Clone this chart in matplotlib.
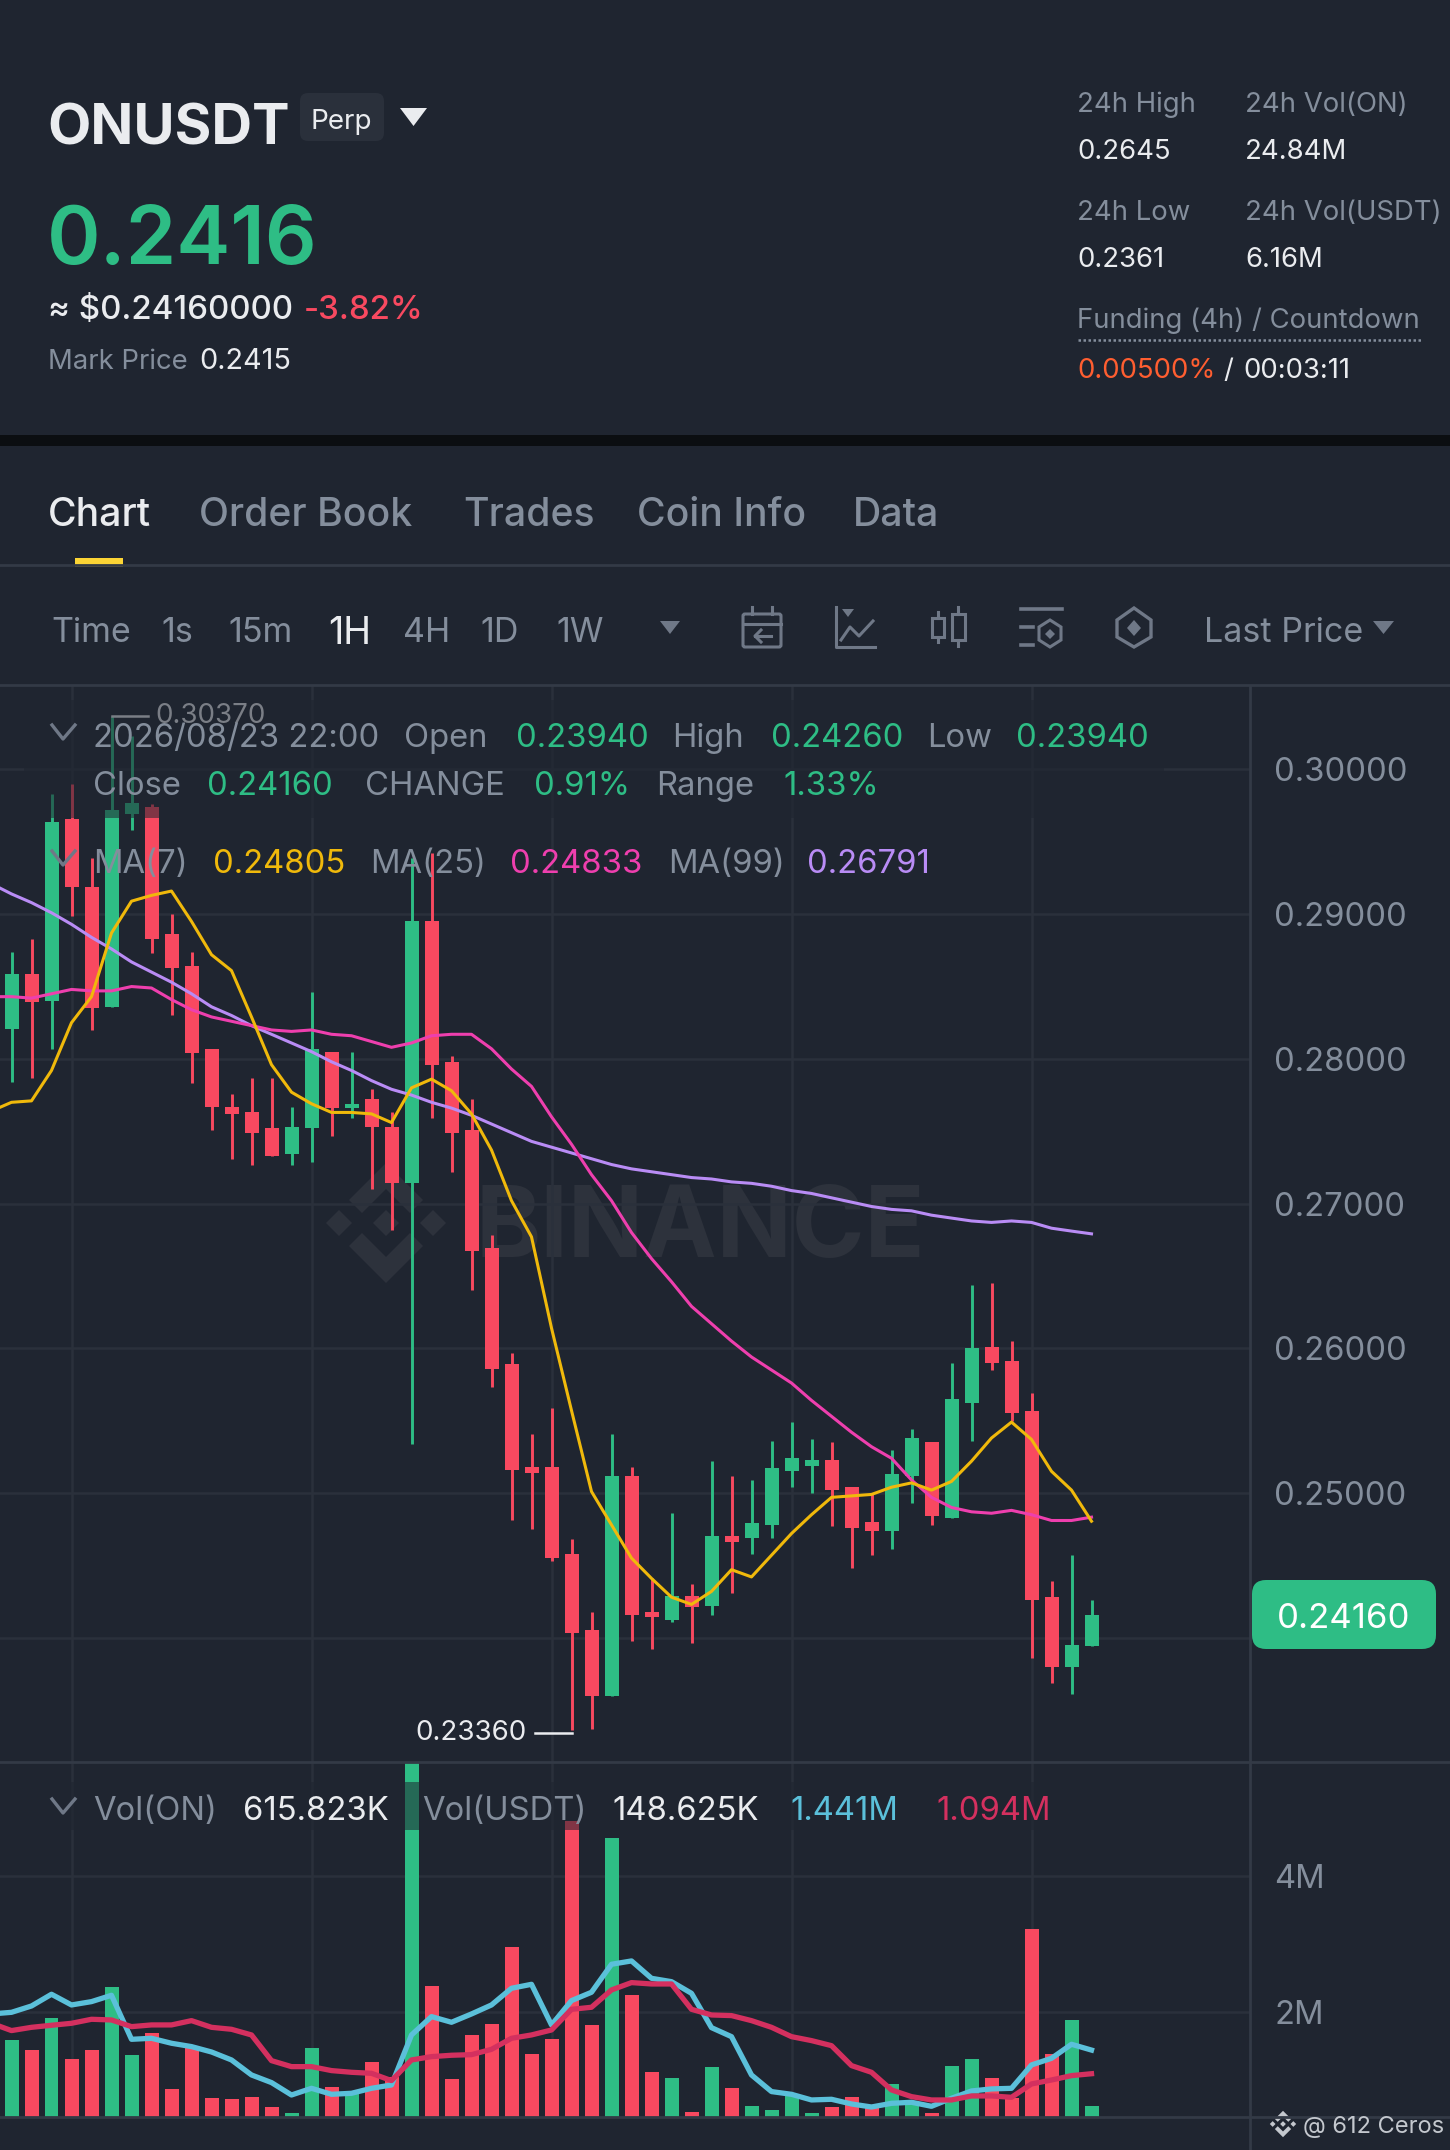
import matplotlib
matplotlib.use("Agg")
import matplotlib.pyplot as plt
from matplotlib.patches import Rectangle, FancyBboxPatch, Polygon

plt.rcParams['font.family'] = ['Inter', 'DejaVu Sans']

# candles, oldest first
opens = [.2821,.2859,.2840,.2966,.2919,.2836,.2969,.2974,.2886,.2864,.2807,.2767,.2763,.2752,.2734,.2752,.2805,.2766,.2772,.2753,
         .2714,.2895,.2798,.2751,.2669,.2589,.2518,.2518,.2458,.2405,.2360,.2512,.2418,.2412,.2429,.2422,.2470,.2469,.2478,.2515,
         .2519,.2523,.2504,.2480,.2474,.2512,.2535,.2483,.2562,.2601,.2591,.2557,.2428,.2380,.2394]
highs = [.2874,.2883,.2983,.2990,.2939,.3037,.3023,.2976,.2900,.2874,.2807,.2776,.2787,.2787,.2767,.2846,.2805,.2805,.2779,.2763,
         .2939,.2942,.2802,.2772,.2678,.2597,.2541,.2559,.2468,.2418,.2541,.2518,.2441,.2486,.2437,.2522,.2512,.2509,.2536,.2549,
         .2537,.2535,.2504,.2499,.2530,.2544,.2535,.2590,.2644,.2645,.2605,.2569,.2439,.2457,.2426]
lows = [.2784,.2787,.2807,.2899,.2820,.2836,.2958,.2873,.2830,.2783,.2751,.2731,.2727,.2733,.2727,.2729,.2747,.2759,.2710,.2682,
        .2534,.2759,.2722,.2640,.2573,.2481,.2475,.2453,.2336,.2337,.2360,.2398,.2392,.2411,.2396,.2416,.2431,.2458,.2469,.2504,
        .2500,.2477,.2448,.2457,.2461,.2493,.2478,.2483,.2536,.2585,.2550,.2386,.2369,.2361,.2394]
closes = [.2859,.2839,.2964,.2919,.2835,.2972,.2977,.2883,.2863,.2804,.2767,.2762,.2749,.2733,.2753,.2807,.2766,.2769,.2753,.2714,
          .2895,.2796,.2749,.2667,.2586,.2516,.2514,.2455,.2403,.2360,.2512,.2416,.2414,.2429,.2421,.2470,.2466,.2479,.2517,.2524,
          .2523,.2502,.2476,.2474,.2513,.2538,.2484,.2565,.2600,.2590,.2555,.2426,.2380,.2395,.2416]
volumes = [1.585,1.438,1.917,1.306,1.442,2.362,1.369,1.687,.870,1.467,.734,.723,.753,.601,.514,1.472,.904,.831,1.262,1.051,
           5.66,2.382,1.017,1.658,1.824,2.949,1.384,1.604,4.807,1.805,4.549,2.245,1.120,1.032,.537,1.193,.880,.621,.558,.782,
           .514,.610,.753,.635,.948,.660,.514,1.208,1.306,1.027,.734,3.218,1.384,1.878,.616]

# moving averages start one candle before the first visible one
ma7 = [.2764,.2770,.2771,.2792,.2825,.2843,.2887,.2909,.2913,.2916,.2895,.2872,.2861,.2829,.2796,.2777,.2769,.2763,.2763,.2762,.2756,
       .2780,.2786,.2778,.2762,.2737,.2702,.2677,.2614,.2557,.2501,.2478,.2455,.2441,.2428,.2423,.2432,.2447,.2442,.2457,.2472,
       .2485,.2497,.2498,.2499,.2504,.2507,.2502,.2508,.2522,.2538,.2549,.2537,.2515,.2502,.24805]
ma25 = [.2843,.2843,.2842,.2845,.2848,.2847,.2847,.2850,.2849,.2841,.2834,.2829,.2826,.2823,.2820,.2819,.2820,.2817,.2816,.2812,.2808,
        .2811,.2816,.2817,.2817,.2807,.2793,.2781,.2760,.2741,.2720,.2702,.2680,.2662,.2646,.2629,.2617,.2605,.2594,.2585,.2576,
        .2564,.2553,.2542,.2532,.2524,.2509,.2497,.2490,.2487,.2486,.2488,.2485,.2481,.2481,.24833]
ma99 = [.2921,.2914,.2908,.2901,.2893,.2884,.2876,.2867,.2860,.2853,.2845,.2836,.2830,.2823,.2817,.2811,.2805,.2798,.2792,.2785,.2779,
        .2775,.2770,.2766,.2761,.2755,.2749,.2743,.2739,.2735,.2731,.2727,.2724,.2722,.2720,.2718,.2717,.2715,.2714,.2712,.2709,
        .2707,.2704,.2701,.2698,.2696,.2695,.2692,.2690,.2688,.2687,.2688,.2687,.2683,.2681,.26791]
vol_ma_a = [1.971,1.995,2.088,2.260,2.103,2.152,2.245,1.599,1.614,1.541,1.492,1.413,1.296,1.076,.964,.782,.880,.792,.807,.880,.929,
            1.663,1.932,1.849,1.971,2.103,2.348,2.406,1.810,2.167,2.289,2.700,2.749,2.494,2.445,2.274,1.770,1.638,1.076,.832,.792,
            .709,.719,.650,.606,.660,.675,.616,.734,.841,.871,.880,1.223,1.320,1.526,1.441]
vol_ma_b = [1.834,1.727,1.775,1.805,1.834,1.893,1.883,1.785,1.810,1.810,1.873,1.775,1.746,1.663,1.286,1.198,1.198,1.140,1.115,1.100,.993,
            1.296,1.345,1.365,1.374,1.452,1.614,1.663,1.736,2.039,2.069,2.323,2.431,2.411,2.411,2.039,1.956,1.947,1.873,1.775,1.638,
            1.580,1.506,1.213,1.115,.856,.758,.709,.709,.768,.768,.748,.944,1.002,1.066,1.094]

price_ticks = [.30, .29, .28, .27, .26, .25, .24]
price_labels = ['0.30000', '0.29000', '0.28000', '0.27000', '0.26000', '0.25000', '']
vol_ticks = [2, 4]
vol_labels = ['2M', '4M']

BG = '#1f2530'
GREEN = '#2ebd85'
RED = '#f84960'
GRAY = '#848e9c'
WHITE = '#eaecef'
GRID = '#2a303b'
LINE = '#333a46'
ICON = '#6f7887'
W, H = 1450, 2150
ROW = 23.6  # legend and axis text size
SIDE = 19.8  # 24h block text size

fig = plt.figure(figsize=(W / 100, H / 100), dpi=100, facecolor=BG)


def pane(x0, x1, y0, y1, z):
    a = fig.add_axes([x0 / W, 1 - y1 / H, (x1 - x0) / W, (y1 - y0) / H], zorder=z)
    a.patch.set_alpha(0)
    return a


# pixel canvas behind the charts, for the watermark and the frame
back = pane(0, W, 0, H, 0)
back.set_xlim(0, W)
back.set_ylim(H, 0)
back.axis('off')


def logo(a, cx, cy, s, color):
    for dx in (-47, 0, 47):
        d = 13
        a.add_patch(Polygon([(cx + s * (dx - d), cy), (cx + s * dx, cy - s * d), (cx + s * (dx + d), cy), (cx + s * dx, cy + s * d)],
                            fc=color, ec='none'))
    for sign in (-1, 1):
        a.add_patch(Polygon([(cx, cy + sign * s * 60), (cx + s * 37, cy + sign * s * 23), (cx + s * 24, cy + sign * s * 10),
                             (cx, cy + sign * s * 34), (cx - s * 24, cy + sign * s * 10), (cx - s * 37, cy + sign * s * 23)],
                            fc=color, ec='none'))


logo(back, 386, 1223, 1, '#2d323c')
back.text(476, 1257, 'BINANCE', color='#2d323c', fontsize=71, fontweight='bold', va='baseline')

# price pane
ax = pane(0, 1250, 686, 1762, 1)
ax.set_xlim(-0.575, 61.925)
ax.set_ylim(0.23141, 0.30577)
xs = list(range(len(opens)))
ma_xs = list(range(-1, len(opens)))
for i in xs:
    up = closes[i] >= opens[i]
    c = GREEN if up else RED
    ax.vlines(i, lows[i], highs[i], color=c, lw=2.1, zorder=3)
    ax.bar(i, abs(closes[i] - opens[i]), bottom=min(opens[i], closes[i]), width=0.7, color=c, zorder=3)
ax.plot(ma_xs, ma99, color='#b98cf5', lw=2.2, zorder=4)
ax.plot(ma_xs, ma25, color='#ee3fae', lw=2.2, zorder=5)
ax.plot(ma_xs, ma7, color='#f0b90b', lw=2.2, zorder=6)
ax.plot([5, 6.8], [.3037, .3037], color=WHITE, lw=1.8, zorder=6)
ax.text(7.2, .3037, '0.30370', color=WHITE, fontsize=20, va='center', zorder=6)
ax.plot([26.15, 28], [.2334, .2334], color=WHITE, lw=1.8, zorder=6)
ax.text(25.75, .2334, '0.23360', color=WHITE, fontsize=20, va='center', ha='right', zorder=6)
ax.set_xticks([3, 15, 27, 39, 51])
ax.set_xticklabels([])
ax.set_yticks(price_ticks)
ax.set_yticklabels(price_labels)
ax.yaxis.tick_right()
ax.tick_params(length=0, labelcolor=GRAY, labelsize=ROW, pad=17.3, labelbottom=False)
ax.grid(color=GRID, lw=1.8, zorder=0)
ax.set_axisbelow(True)
for s in ax.spines.values():
    s.set_visible(False)

# volume pane
vx = pane(0, 1250, 1762, 2117, 1)
vx.set_xlim(-0.575, 61.925)
vx.set_ylim(0.459, 5.668)
vx.bar(xs, volumes, width=0.7, color=[GREEN if closes[i] >= opens[i] else RED for i in xs], zorder=3)
vx.plot(ma_xs, vol_ma_a, color='#5bc0da', lw=3.8, zorder=4)
vx.plot(ma_xs, vol_ma_b, color='#d4305f', lw=3.8, zorder=5)
vx.set_xticks([3, 15, 27, 39, 51])
vx.set_xticklabels([])
vx.set_yticks(vol_ticks)
vx.set_yticklabels(vol_labels)
vx.yaxis.tick_right()
vx.tick_params(length=0, labelcolor=GRAY, labelsize=ROW, pad=17.3, labelbottom=False)
vx.grid(color=GRID, lw=1.8, zorder=0)
vx.set_axisbelow(True)
for s in vx.spines.values():
    s.set_visible(False)

# pixel canvas in front: header, tabs, toolbar, legends
top = pane(0, W, 0, H, 10)
top.set_xlim(0, W)
top.set_ylim(H, 0)
top.axis('off')


def label(x, y, s, color=GRAY, size=20, weight='normal', ha='left'):
    # y is the middle of the capitals
    top.text(x, y + size * 100 / 72 * 0.36, s, color=color, fontsize=size, fontweight=weight, ha=ha, va='baseline')


def tri(x0, x1, y0, y1, color):
    top.add_patch(Polygon([(x0, y0), (x1, y0), ((x0 + x1) / 2, y1)], fc=color, ec='none'))


def chevron(y):
    top.plot([52, 63, 75], [y - 7, y + 7, y - 7], color=ICON, lw=2.4)


# frame
top.add_patch(Rectangle((0, 435), W, 11, fc='#0b0e11', ec='none'))
top.plot([0, W], [565, 565], color=LINE, lw=2)
top.plot([0, W], [685, 685], color=LINE, lw=2)
top.plot([0, W], [1762, 1762], color=LINE, lw=2)
top.plot([0, W], [2117, 2117], color=LINE, lw=2)
top.plot([1250, 1250], [686, H], color=LINE, lw=2)
top.add_patch(Rectangle((75, 558), 48, 9, fc='#fcd535', ec='none'))

# dimming behind the legend rows
top.add_patch(Rectangle((24, 700), 1140, 118, fc=BG, ec='none', alpha=0.55))
top.add_patch(Rectangle((24, 1782), 1050, 48, fc=BG, ec='none', alpha=0.55))

# header
label(47, 124, 'ONUSDT', WHITE, 40.5, 'bold')
top.add_patch(FancyBboxPatch((304, 97), 76, 40, boxstyle='round,pad=4,rounding_size=8', fc='#2a303b', ec='none'))
label(311, 119, 'Perp', WHITE, 20)
tri(400, 427, 108, 126, WHITE)
label(47, 235, '0.2416', GREEN, 58.5, 'semibold')
label(48, 307, '≈ $0.24160000', WHITE, 23.8, 'medium')
label(304, 307, '-3.82%', RED, 23.8, 'medium')
label(48, 359, 'Mark Price', GRAY, 19.8)
label(199, 359, '0.2415', WHITE, 20.8)
label(1077, 102, '24h High', GRAY, SIDE)
label(1245, 102, '24h Vol(ON)', GRAY, SIDE)
label(1077, 149, '0.2645', WHITE, SIDE)
label(1245, 149, '24.84M', WHITE, SIDE)
label(1077, 210, '24h Low', GRAY, SIDE)
label(1245, 210, '24h Vol(USDT)', GRAY, SIDE)
label(1077, 257, '0.2361', WHITE, SIDE)
label(1245, 257, '6.16M', WHITE, SIDE)
label(1077, 318, 'Funding (4h) / Countdown', GRAY, SIDE)
top.plot([1078, 1423], [340, 340], color=GRAY, lw=1.8, ls=(0, (1, 1)))
label(1077, 368, '0.00500%', '#ff5e30', SIDE)
label(1223, 368, '/', WHITE, SIDE)
label(1243, 368, '00:03:11', WHITE, SIDE)

# tabs
label(48, 512, 'Chart', WHITE, 28.2, 'medium')
for x, s in [(199, 'Order Book'), (463, 'Trades'), (637, 'Coin Info'), (853, 'Data')]:
    label(x, 512, s, GRAY, 28.2, 'medium')

# toolbar
for x, s, c in [(51, 'Time', GRAY), (161, '1s', GRAY), (228, '15m', GRAY), (328, '1H', WHITE), (403, '4H', GRAY),
                (480, '1D', GRAY), (556, '1W', GRAY), (1204, 'Last Price', GRAY)]:
    label(x, 630, s, c, 24.5 if s != '1H' else 27)
tri(660, 680, 621, 634, ICON)
tri(1373, 1394, 621, 634, ICON)

# calendar
top.add_patch(FancyBboxPatch((743, 614), 38, 33, boxstyle='round,pad=0,rounding_size=2', fc='none', ec=ICON, lw=2.2))
top.plot([743, 781], [624, 624], color=ICON, lw=2.2)
top.plot([752, 752], [607, 614], color=ICON, lw=2.2)
top.plot([772, 772], [607, 614], color=ICON, lw=2.2)
top.plot([771, 755], [636, 636], color=ICON, lw=2.2)
top.plot([761, 755, 761], [630, 636, 642], color=ICON, lw=2.2)
# indicators
top.plot([836, 836, 875], [607, 647, 647], color=ICON, lw=2.2)
tri(842, 854, 609, 617, ICON)
top.plot([841, 850, 859, 873], [640, 627, 636, 621], color=ICON, lw=2.2)
# candle type
for x0, x1, y0, y1, w0, w1 in [(932, 944, 618, 637, 612, 642), (952, 965, 614, 640, 607, 646)]:
    top.add_patch(Rectangle((x0, y0), x1 - x0, y1 - y0, fc='none', ec=ICON, lw=2.2))
    top.plot([(x0 + x1) / 2] * 2, [w0, y0], color=ICON, lw=2.2)
    top.plot([(x0 + x1) / 2] * 2, [y1, w1], color=ICON, lw=2.2)
# settings
top.plot([1021, 1062], [609, 609], color=ICON, lw=2.6)
top.plot([1021, 1033], [627, 627], color=ICON, lw=2.6)
top.plot([1021, 1033], [645, 645], color=ICON, lw=2.6)
top.add_patch(Polygon([(1050, 620), (1061, 627), (1061, 640), (1050, 647), (1039, 640), (1039, 627)], fc='none', ec=ICON, lw=2.2))
top.add_patch(Polygon([(1050, 629), (1055, 634), (1050, 639), (1045, 634)], fc=ICON, ec='none'))
# hexagon
top.add_patch(Polygon([(1134, 608), (1151, 620), (1151, 637), (1134, 647), (1117, 637), (1117, 620)], fc='none', ec=ICON, lw=2.4))
top.add_patch(Polygon([(1134, 620), (1141, 628), (1134, 636), (1127, 628)], fc=ICON, ec='none'))

# chart legend
chevron(732)
label(93, 735, '2026/08/23 22:00', GRAY, ROW)
for x, s, c in [(404, 'Open', GRAY), (516, '0.23940', GREEN), (672, 'High', GRAY), (771, '0.24260', GREEN),
                (927, 'Low', GRAY), (1016, '0.23940', GREEN)]:
    label(x, 735, s, c, ROW)
for x, s, c in [(93, 'Close', GRAY), (207, '0.24160', GREEN), (365, 'CHANGE', GRAY), (534, '0.91%', GREEN),
                (656, 'Range', GRAY), (783, '1.33%', GREEN)]:
    label(x, 783, s, c, ROW)
chevron(858)
for x, s, c in [(93, 'MA(7)', GRAY), (213, '0.24805', '#f0b90b'), (370, 'MA(25)', GRAY), (510, '0.24833', '#ee3fae'),
                (668, 'MA(99)', GRAY), (807, '0.26791', '#b98cf5')]:
    label(x, 861, s, c, ROW)
chevron(1806)
for x, s, c in [(93, 'Vol(ON)', GRAY), (243, '615.823K', WHITE), (422, 'Vol(USDT)', GRAY), (612, '148.625K', WHITE),
                (790, '1.441M', '#5bc0da'), (936, '1.094M', '#d4305f')]:
    label(x, 1808, s, c, ROW)

# last price tag
top.add_patch(FancyBboxPatch((1262, 1590), 164, 49, boxstyle='round,pad=10,rounding_size=14', fc=GREEN, ec='none'))
label(1344, 1615, '0.24160', '#ffffff', 25, ha='center')

# corner credit
logo(top, 1283, 2124, 0.22, '#c4c8ce')
label(1303, 2124, '@ 612 Ceros', '#c4c8ce', 17)

fig.savefig('out.png', dpi=100, facecolor=BG)
